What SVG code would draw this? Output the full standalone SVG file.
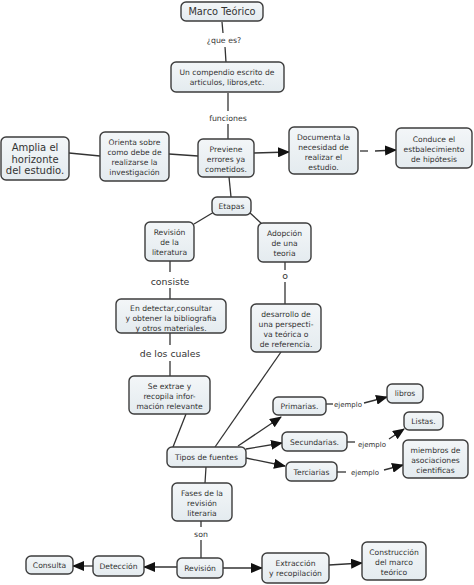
<svg xmlns="http://www.w3.org/2000/svg" width="474" height="585" viewBox="0 0 474 585">
<defs>
<linearGradient id="g" x1="0" y1="0" x2="0" y2="1">
<stop offset="0" stop-color="#f3f6f8"/>
<stop offset="1" stop-color="#e4ebef"/>
</linearGradient>
<marker id="ar" markerUnits="userSpaceOnUse" markerWidth="12" markerHeight="10" refX="11" refY="5" orient="auto">
<path d="M0,0 L12,5 L0,10 Z" fill="#111"/>
</marker>
</defs>
<style>
.n rect{fill:url(#g);stroke:#3c3c3c;stroke-width:1.4}
text{font-family:"DejaVu Sans","Liberation Sans",sans-serif;fill:#333;text-anchor:middle}
.t{font-size:7.6px}
.l{font-size:7.8px}
.s{font-size:7px}
.c line,.c path{stroke:#333;stroke-width:1.3;fill:none}
.a{marker-end:url(#ar)}
</style>
<rect width="474" height="585" fill="#fff"/>
<g class="c">
<line x1="222" y1="22" x2="223" y2="33"/>
<line x1="225" y1="47" x2="226" y2="62"/>
<line x1="228" y1="93" x2="228" y2="111"/>
<line x1="228" y1="124" x2="228" y2="139"/>
<line x1="198" y1="156" x2="169" y2="154"/>
<line x1="100" y1="156" x2="69" y2="153"/>
<line class="a" x1="254" y1="153" x2="289" y2="152"/>
<line x1="360" y1="151" x2="368" y2="151"/>
<line class="a" x1="375" y1="151" x2="396" y2="150"/>
<line x1="229" y1="177" x2="231" y2="197"/>
<line x1="214" y1="212" x2="194" y2="224"/>
<line x1="249" y1="212" x2="262" y2="224"/>
<line x1="170" y1="261" x2="170" y2="272"/>
<line x1="170" y1="288" x2="170" y2="299"/>
<line x1="285" y1="262" x2="285" y2="270"/>
<line x1="285" y1="282" x2="285" y2="304"/>
<line x1="170" y1="333" x2="170" y2="345"/>
<line x1="170" y1="361" x2="170" y2="376"/>
<line x1="281" y1="352" x2="215" y2="447"/>
<line x1="186" y1="414" x2="173" y2="447"/>
<line class="a" x1="238" y1="446" x2="281" y2="417"/>
<line class="a" x1="246" y1="449" x2="282" y2="443"/>
<line class="a" x1="246" y1="458" x2="285" y2="466"/>
<line x1="326" y1="404" x2="333" y2="404"/>
<line class="a" x1="364" y1="403" x2="387" y2="397"/>
<line x1="347" y1="442" x2="355" y2="442"/>
<line class="a" x1="389" y1="439" x2="404" y2="429"/>
<line x1="337" y1="472" x2="346" y2="472"/>
<line class="a" x1="384" y1="470" x2="403" y2="465"/>
<line x1="206" y1="467" x2="205" y2="483"/>
<line x1="201" y1="521" x2="201" y2="527"/>
<line x1="201" y1="540" x2="201" y2="558"/>
<line class="a" x1="177" y1="567" x2="144" y2="567"/>
<line class="a" x1="93" y1="566" x2="73" y2="566"/>
<line class="a" x1="223" y1="568" x2="262" y2="568"/>
<line class="a" x1="329" y1="565" x2="362" y2="563"/>
</g>
<g id="labels">
<text class="l" x="224" y="43">¿que es?</text>
<text class="l" x="228" y="121">funciones</text>
<text x="170" y="285" style="font-size:9.4px">consiste</text>
<text x="285" y="279" style="font-size:9.4px">o</text>
<text x="170" y="357" style="font-size:9.3px">de los cuales</text>
<text class="s" x="348" y="407">ejemplo</text>
<text class="s" x="372" y="447">ejemplo</text>
<text class="s" x="365" y="475">ejemplo</text>
<text class="l" x="201" y="537">son</text>
</g>
<g id="marco" class="n"><rect x="181" y="2" width="82" height="19" rx="5"/><text x="222" y="15" style="font-size:9.8px">Marco Teórico</text></g>
<g id="compendio" class="n"><rect x="171" y="62" width="113" height="30" rx="5"/><text class="t" x="227" y="75">Un compendio escrito de</text><text class="t" x="227" y="85">articulos, libros,etc.</text></g>
<g id="amplia" class="n"><rect x="1" y="137" width="68" height="43" rx="5"/><text x="35" y="151" style="font-size:10px">Amplia el</text><text x="35" y="162.5" style="font-size:10px">horizonte</text><text x="35" y="174" style="font-size:10px">del estudio.</text></g>
<g id="orienta" class="n"><rect x="100" y="132" width="69" height="49" rx="5"/><text class="t" x="134.5" y="145">Orienta sobre</text><text class="t" x="134.5" y="155">como debe de</text><text class="t" x="134.5" y="165">realizarse la</text><text class="t" x="134.5" y="175">investigación</text></g>
<g id="previene" class="n"><rect x="198" y="139" width="56" height="38" rx="5"/><text class="t" x="226" y="152">Previene</text><text class="t" x="226" y="162">errores ya</text><text class="t" x="226" y="172">cometidos.</text></g>
<g id="documenta" class="n"><rect x="289" y="127" width="69" height="47" rx="5"/><text class="t" x="323.5" y="140">Documenta la</text><text class="t" x="323.5" y="150">necesidad de</text><text class="t" x="323.5" y="160">realizar el</text><text class="t" x="323.5" y="170">estudio.</text></g>
<g id="conduce" class="n"><rect x="396" y="128" width="76" height="40" rx="5"/><text class="t" x="434" y="142">Conduce el</text><text class="t" x="434" y="152">estbalecimiento</text><text class="t" x="434" y="162">de hipótesis</text></g>
<g id="etapas" class="n"><rect x="212" y="197" width="39" height="18" rx="5"/><text class="t" x="231.5" y="209">Etapas</text></g>
<g id="revlit" class="n"><rect x="145" y="222" width="49" height="39" rx="5"/><text class="t" x="169.5" y="235">Revisión</text><text class="t" x="169.5" y="245">de la</text><text class="t" x="169.5" y="255">literatura</text></g>
<g id="adopcion" class="n"><rect x="258" y="223" width="53" height="39" rx="5"/><text class="t" x="284.5" y="236">Adopción</text><text class="t" x="284.5" y="246">de una</text><text class="t" x="284.5" y="256">teoria</text></g>
<g id="detectar" class="n"><rect x="116" y="299" width="110" height="34" rx="5"/><text class="t" x="171" y="311">En detectar,consultar</text><text class="t" x="171" y="321">y obtener la bibliografia</text><text class="t" x="171" y="331">y otros materiales.</text></g>
<g id="desarrollo" class="n"><rect x="251" y="304" width="70" height="48" rx="5"/><text class="t" x="286" y="317">desarrollo de</text><text class="t" x="286" y="327">una perspecti-</text><text class="t" x="286" y="337">va teórica o</text><text class="t" x="286" y="347">de referencia.</text></g>
<g id="extrae" class="n"><rect x="129" y="376" width="81" height="38" rx="5"/><text class="t" x="169.5" y="389">Se extrae y</text><text class="t" x="169.5" y="399">recopila infor-</text><text class="t" x="169.5" y="409">mación relevante</text></g>
<g id="primarias" class="n"><rect x="273" y="397" width="53" height="18" rx="5"/><text class="t" x="299.5" y="409">Primarias.</text></g>
<g id="libros" class="n"><rect x="387" y="384" width="36" height="19" rx="5"/><text class="t" x="405" y="396">libros</text></g>
<g id="listas" class="n"><rect x="404" y="412" width="39" height="18" rx="5"/><text class="t" x="423.5" y="424">Listas.</text></g>
<g id="secundarias" class="n"><rect x="282" y="432" width="65" height="19" rx="5"/><text class="t" x="314.5" y="444.5">Secundarias.</text></g>
<g id="miembros" class="n"><rect x="403" y="440" width="65" height="38" rx="5"/><text class="t" x="435.5" y="453">miembros de</text><text class="t" x="435.5" y="463">asociaciones</text><text class="t" x="435.5" y="473">cientificas</text></g>
<g id="tipos" class="n"><rect x="167" y="447" width="79" height="20" rx="5"/><text class="t" x="206.5" y="460">Tipos de fuentes</text></g>
<g id="terciarias" class="n"><rect x="286" y="462" width="51" height="19" rx="5"/><text class="t" x="311.5" y="474.5">Terciarias</text></g>
<g id="fases" class="n"><rect x="172" y="483" width="60" height="38" rx="5"/><text class="t" x="202" y="496">Fases de la</text><text class="t" x="202" y="506">revisión</text><text class="t" x="202" y="516">literaria</text></g>
<g id="revision" class="n"><rect x="177" y="558" width="46" height="20" rx="5"/><text class="t" x="200" y="571">Revisión</text></g>
<g id="deteccion" class="n"><rect x="93" y="556" width="51" height="20" rx="5"/><text class="t" x="118.5" y="569">Detección</text></g>
<g id="consulta" class="n"><rect x="26" y="556" width="47" height="18" rx="5"/><text class="t" x="49.5" y="568">Consulta</text></g>
<g id="extraccion" class="n"><rect x="262" y="553" width="67" height="30" rx="5"/><text class="t" x="295.5" y="566">Extracción</text><text class="t" x="295.5" y="576">y recopilación</text></g>
<g id="construccion" class="n"><rect x="362" y="542" width="64" height="38" rx="5"/><text class="t" x="394" y="555">Construcción</text><text class="t" x="394" y="565">del marco</text><text class="t" x="394" y="575">teórico</text></g>
</svg>
